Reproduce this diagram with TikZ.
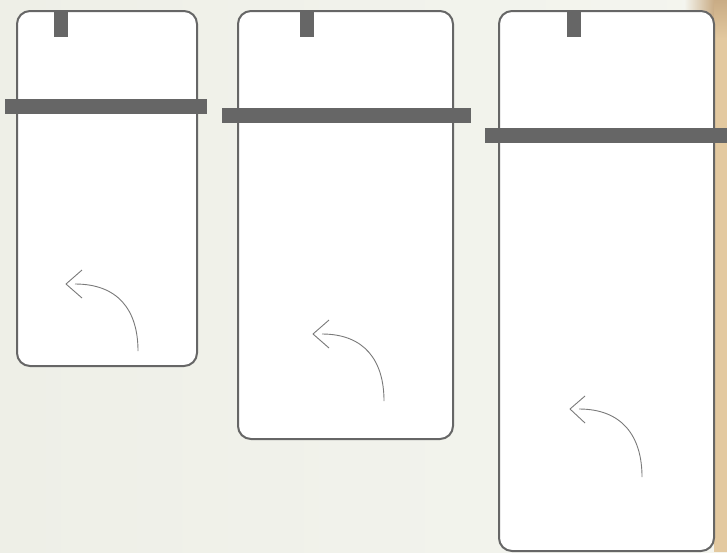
\documentclass[tikz,border=0pt]{standalone}
\usetikzlibrary{calc}
\definecolor{bgL}{HTML}{EEEFE7}
\definecolor{bgR}{HTML}{F4F5EF}
\definecolor{tan}{HTML}{E3C9A0}
\definecolor{tanD}{HTML}{C9AC85}
\definecolor{frame}{HTML}{666666}
\definecolor{arr}{HTML}{7A7A7A}
\begin{document}
\begin{tikzpicture}[x=1pt,y=-1pt,
  phone/.style={draw=frame,line width=2pt,fill=white,rounded corners=13pt},
  bar/.style={fill=frame,draw=none},
  turn/.style={draw=arr,line width=0.9pt},
  line join=round]
\useasboundingbox (0,0) rectangle (727,552);
% background
\shade[left color=bgL,right color=bgR] (0,0) rectangle (727,552);
\fill[tan] (714,0) rectangle (727,552);
\shade[left color=bgR,right color=tanD] (684,0) rectangle (714,30);
\shade[top color=tanD,bottom color=tan] (714,0) rectangle (727,40);
% box 1
\path[phone] (17,11) rectangle (197,366);
\coordinate (b1tab) at (61,11);
\fill[bar] (54,11) rectangle (68,37);
\fill[bar] (5,99) rectangle (207,114);
\coordinate (a1s) at (138,351);
\coordinate (a1e) at (75,284);
\coordinate (a1t) at (66,284);
\draw[turn] (a1s) .. controls (138,310) and (118,284) .. (a1e);
\draw[turn] ($(a1t)+(16,-14)$) -- (a1t) -- ($(a1t)+(16,14)$);
% box 2
\path[phone] (238,11) rectangle (453,439);
\fill[bar] (300,11) rectangle (314,37);
\fill[bar] (222,108) rectangle (471,123);
\coordinate (a2s) at (384,401);
\coordinate (a2e) at (322,334);
\coordinate (a2t) at (313,334);
\draw[turn] (a2s) .. controls (384,360) and (364,334) .. (a2e);
\draw[turn] ($(a2t)+(16,-14)$) -- (a2t) -- ($(a2t)+(16,14)$);
% box 3
\path[phone] (499,11) rectangle (714,551);
\fill[bar] (567,11) rectangle (581,37);
\fill[bar] (485,128) rectangle (727,143);
\coordinate (a3s) at (642,477);
\coordinate (a3e) at (579,409);
\coordinate (a3t) at (570,409);
\draw[turn] (a3s) .. controls (642,436) and (622,409) .. (a3e);
\draw[turn] ($(a3t)+(15,-13)$) -- (a3t) -- ($(a3t)+(15,14)$);
\end{tikzpicture}
\end{document}
